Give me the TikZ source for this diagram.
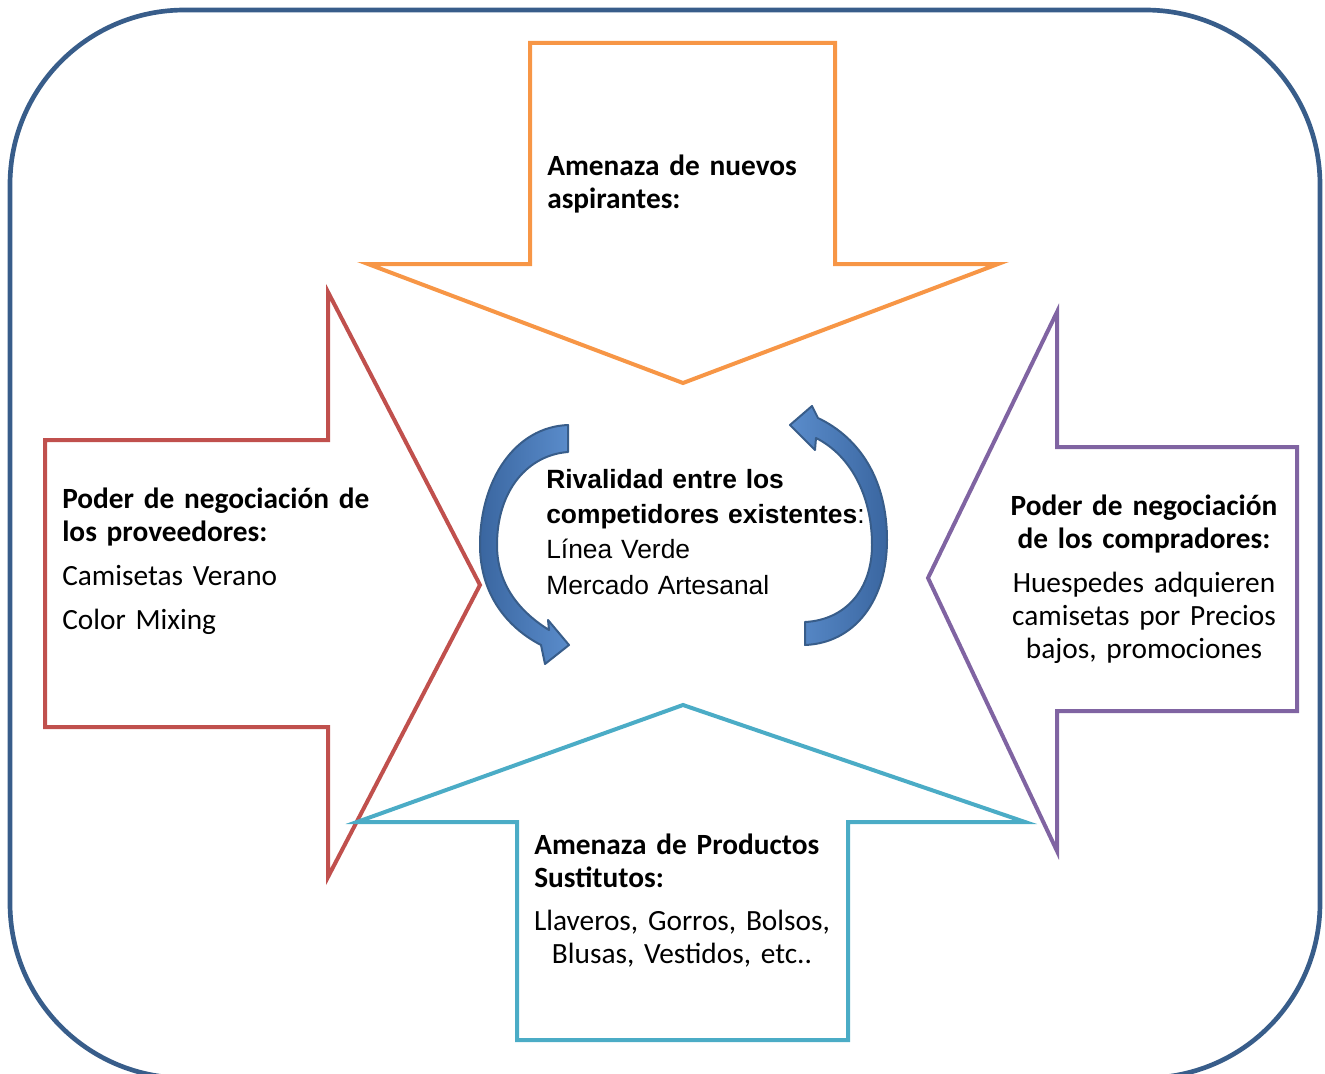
\documentclass[tikz,border=0pt]{standalone}
\usepackage{fontspec}
\setmainfont{Carlito}
\newfontfamily\arialfont{Liberation Sans}
\usepackage{xcolor}
\definecolor{framec}{HTML}{385D8A}
\definecolor{nuevosc}{HTML}{F79646}
\definecolor{provc}{HTML}{C0504D}
\definecolor{compc}{HTML}{8064A2}
\definecolor{sustc}{HTML}{4BACC6}
\definecolor{arcdark}{HTML}{3A66A0}
\definecolor{arclight}{HTML}{5A8CCB}

\begin{document}
\begin{tikzpicture}[x=0.75pt,y=-0.75pt,
  force/.style={line width=3pt, line join=miter},
  arcarrow/.style={draw=framec, line width=1.5pt, line join=round},
  blk/.style={inner sep=0pt, font=\fontsize{22}{24.75}\selectfont},
  rival/.style={inner sep=0pt, font=\arialfont\fontsize{19.8}{26.5}\selectfont}]
\useasboundingbox (0,0) rectangle (1325,1074);
\clip (0,0) rectangle (1325,1074);
% frame
\draw[framec, line width=3.5pt, rounded corners=131pt] (10,10) rectangle (1320,1078);

% the four forces
\draw[force, nuevosc] (530,43) -- (835,43) -- (835,264) -- (998,264) -- (683,383)
  -- (368,264) -- (530,264) -- cycle;
\draw[force, provc] (45,440) -- (328,440) -- (328,292) -- (480,585) -- (328,877)
  -- (328,727) -- (45,727) -- cycle;
\draw[force, compc] (1297,447) -- (1057,447) -- (1057,312) -- (928,578) -- (1057,851)
  -- (1057,711) -- (1297,711) -- cycle;
\draw[force, sustc] (517,1040) -- (517,822) -- (357,822) -- (683,705) -- (1025,822)
  -- (848,822) -- (848,1040) -- cycle;

% rivalry arrows
\shadedraw[arcarrow, left color=arcdark, right color=arclight]
  (568,425) .. controls (515,427) and (480,480) .. (480,545)
  .. controls (480,595) and (508,628) .. (541,645) -- (545,664) -- (569,645)
  -- (548,620) -- (549,630) .. controls (520,612) and (497,585) .. (497,545)
  .. controls (497,490) and (528,455) .. (568,452) -- cycle;
\shadedraw[arcarrow, left color=arclight, right color=arcdark]
  (805,645) .. controls (855,643) and (887,600) .. (887,540)
  .. controls (887,480) and (860,438) .. (818,418) -- (812,406) -- (790,425)
  -- (815,450) -- (816,438) .. controls (850,455) and (872,495) .. (872,545)
  .. controls (872,590) and (845,620) .. (805,622) -- cycle;

% texts
\node[blk, text width=220pt, align=left, anchor=base west] (nuevos) at (547,175)
  {\textbf{Amenaza de nuevos}\\\textbf{aspirantes:}};
\node[blk, text width=240pt, align=left, anchor=base west] (proveedores) at (62,508)
  {\textbf{Poder de negociación de}\\\textbf{los proveedores:}\\[8.5pt]Camisetas Verano\\[8.5pt]Color Mixing};
\node[blk, text width=220pt, align=center, anchor=base] (compradores) at (1144,515)
  {\textbf{Poder de negociación}\\\textbf{de los compradores:}\\[8.5pt]Huespedes adquieren\\camisetas por Precios\\bajos, promociones};
\node[blk, text width=240pt, align=left, anchor=base west] (sustitutos) at (534,854)
  {\textbf{Amenaza de Productos}\\\textbf{Sustitutos:}};
\node[blk, text width=240pt, align=center, anchor=base] (productos) at (682,930)
  {Llaveros, Gorros, Bolsos,\\Blusas, Vestidos, etc..};
\node[rival, text width=240pt, align=left, anchor=base west] (rivalidad) at (546,488)
  {\textbf{Rivalidad entre los}\\\textbf{competidores existentes}:\\Línea Verde\\Mercado Artesanal};
\end{tikzpicture}
\end{document}
